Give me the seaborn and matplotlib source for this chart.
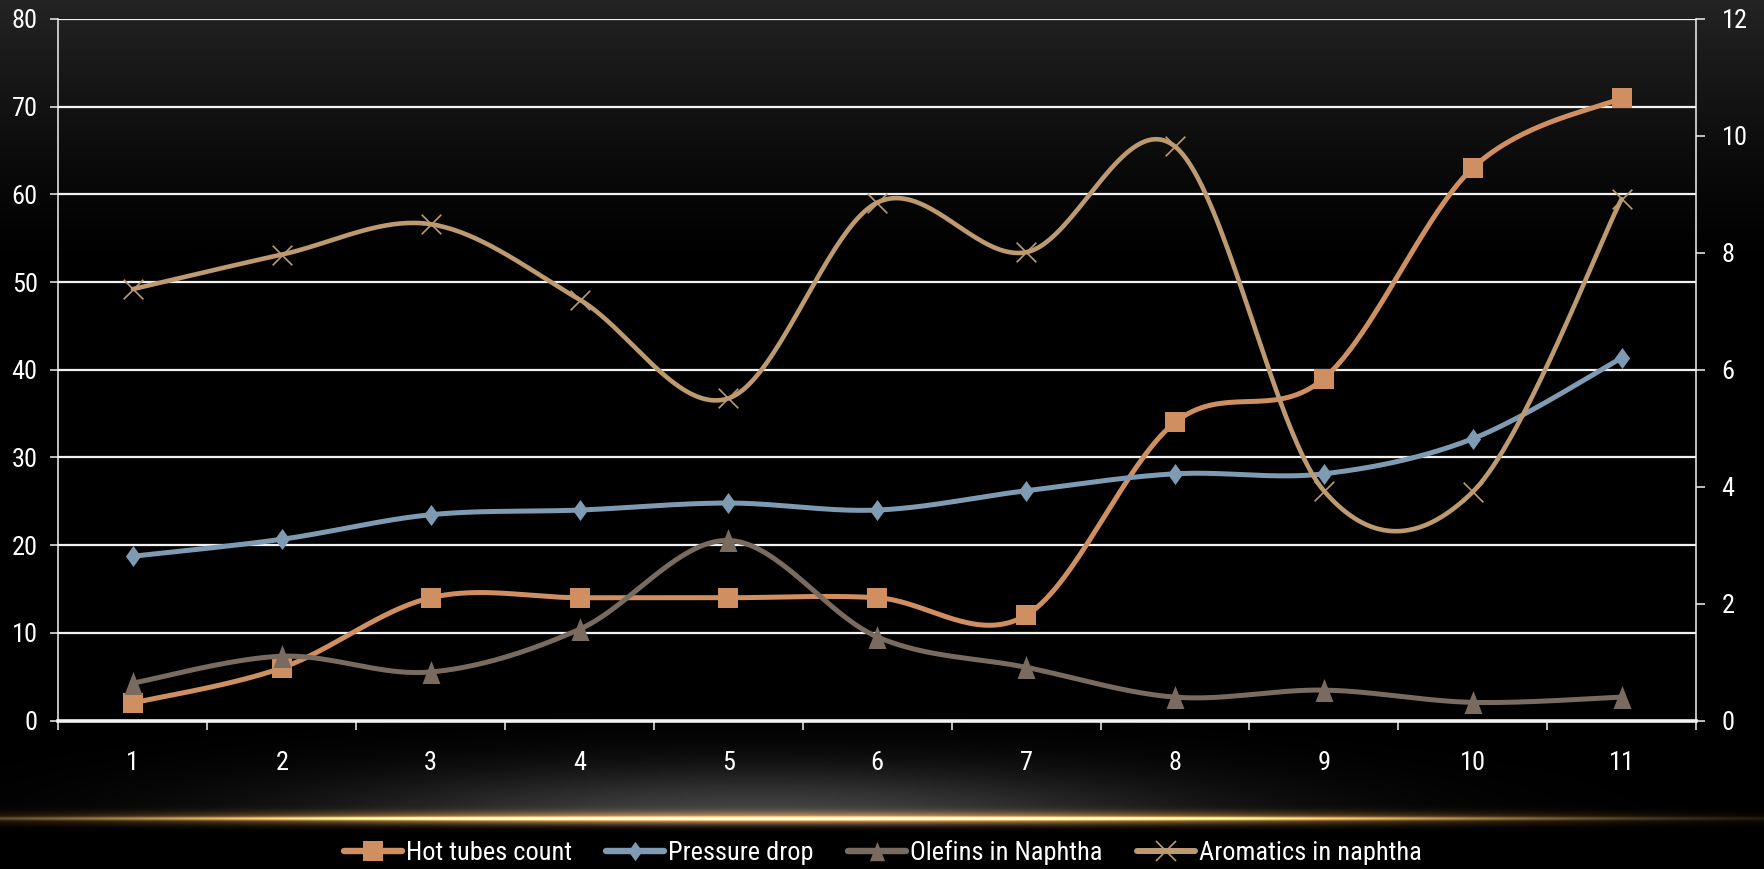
import numpy as np
import pandas as pd
import matplotlib
matplotlib.use('Agg')
import matplotlib.pyplot as plt
from matplotlib.lines import Line2D
import seaborn as sns

# values
samples = list(range(1, 12))
hot_tubes = [2, 6, 14, 14, 14, 14, 12, 34, 39, 63, 71]                      # left axis
pressure_drop = [2.81, 3.10, 3.52, 3.60, 3.72, 3.60, 3.93, 4.22, 4.22, 4.82, 6.20]  # right axis
olefins = [0.64, 1.10, 0.83, 1.56, 3.08, 1.43, 0.91, 0.40, 0.52, 0.31, 0.40]
aromatics = [7.38, 7.97, 8.49, 7.20, 5.51, 8.86, 8.01, 9.82, 3.93, 3.91, 8.92]

left_ticks = list(range(0, 81, 10))
right_ticks = list(range(0, 13, 2))

sns.set_theme(style='dark')
plt.rcParams['font.family'] = ['Roboto Condensed', 'DejaVu Sans']

W, H = 1765, 869
fig = plt.figure(figsize=(W / 100, H / 100), dpi=100)
fig.patch.set_facecolor('black')

# background: dark gradient on top, grey glow and golden streak at the bottom
yy, xx = np.mgrid[0:H, 0:W].astype(float)
img = np.zeros((H, W, 3))
top = 0.14 * np.clip(1 - yy / 270, 0, 1) ** 1.3
img += top[..., None]
line_y = 818
above = yy < line_y
glow = 0.27 * np.exp(-((xx - 760) / 430) ** 2) * np.where(
    above, np.exp(-((yy - line_y) / 50) ** 2), np.exp(-((yy - line_y) / 6) ** 2))
img += glow[..., None]
hx = np.exp(-np.abs((xx - 800) / 720) ** 3)
core = np.exp(-((yy - line_y) / 1.7) ** 2) * hx
halo = np.exp(-((yy - line_y) / 6.5) ** 2) * hx
img += core[..., None] * np.array([0.95, 0.82, 0.52])
img += 0.6 * halo[..., None] * np.array([0.85, 0.55, 0.18])
img = np.clip(img, 0, 1)
bg = fig.add_axes([0, 0, 1, 1], zorder=-10)
bg.imshow(img, aspect='auto', interpolation='bilinear')
bg.axis('off')

ax = fig.add_axes([58.5 / W, 1 - 720.5 / H, (1696 - 58.5) / W, (720.5 - 19) / H])
ax.patch.set_visible(False)
ax2 = ax.twinx()
ax2.patch.set_visible(False)


def smooth(xs, ys, n=40):
    # bezier curve through the points, like a spreadsheet "smoothed line"
    p = np.column_stack([xs, ys]).astype(float)
    pad = np.vstack([p[0], p, p[-1]])
    t = np.linspace(0, 1, n)[:, None]
    out = []
    for i in range(len(p) - 1):
        a, b = p[i], p[i + 1]
        c1 = a + (pad[i + 2] - pad[i]) / 6
        c2 = b - (pad[i + 3] - pad[i + 1]) / 6
        seg = (1 - t) ** 3 * a + 3 * (1 - t) ** 2 * t * c1 + 3 * (1 - t) * t ** 2 * c2 + t ** 3 * b
        out.append(seg if i == 0 else seg[1:])
    out = np.vstack(out)
    return pd.DataFrame({'x': out[:, 0], 'y': out[:, 1]})


square = 's'
diamond = [(0, 1), (0.72, 0), (0, -1), (-0.72, 0)]
triangle = [(0, 1), (0.78, -1), (-0.78, -1)]

series = [
    ('Hot tubes count', hot_tubes, ax, '#d08f60', square, 207, 3.6),
    ('Pressure drop', pressure_drop, ax2, '#7f9bb4', diamond, 230, 3.6),
    ('Olefins in Naphtha', olefins, ax2, '#7a6b60', triangle, 275, 3.6),
    ('Aromatics in naphtha', aromatics, ax2, '#bd9a70', 'x', 200, 3.3),
]

handles = []
for name, vals, axis, col, mk, size, lw in series:
    curve = smooth(samples, vals)
    sns.lineplot(data=curve, x='x', y='y', ax=axis, color=col, linewidth=lw,
                 sort=False, estimator=None, legend=False, zorder=3)
    pts = pd.DataFrame({'x': samples, 'y': vals})
    if mk == 'x':
        sns.scatterplot(data=pts, x='x', y='y', ax=axis, marker='x', s=size,
                        color=col, linewidth=1.2, legend=False, zorder=4)
    else:
        sns.scatterplot(data=pts, x='x', y='y', ax=axis, marker=mk, s=size,
                        color=col, linewidth=0, legend=False, zorder=4)
    handles.append(Line2D([], [], color=col, lw=lw + 1, marker=mk,
                          markersize=14 if mk != 'x' else 15,
                          markeredgewidth=0 if mk != 'x' else 1.2,
                          markeredgecolor=col, label=name))

grid_col = '#f2f2f2'
ax.set_xlim(0.5, 11.5)
ax.set_ylim(0, 80)
ax2.set_ylim(0, 12)
ax.set_yticks(left_ticks)
ax2.set_yticks(right_ticks)
ax.set_xticks(samples)
ax.set_xticklabels([str(s) for s in samples])
ax.set_xticks(np.arange(0.5, 12, 1), minor=True)
ax.set_xlabel('')
ax.set_ylabel('')
ax2.set_ylabel('')

ax.yaxis.grid(True, color=grid_col, linewidth=1.6)
ax.xaxis.grid(False)
ax2.grid(False)
ax.set_axisbelow(True)

ax.tick_params(axis='x', which='major', length=0, pad=22, labelsize=19, colors='white')
ax.tick_params(axis='x', which='minor', length=6.5, width=1.1, color=grid_col, direction='out', bottom=True)
ax.tick_params(axis='y', length=6, width=1.1, color=grid_col, direction='out', pad=9,
               labelsize=19, labelcolor='white', left=True)
ax2.tick_params(axis='y', length=6.5, width=1.1, color=grid_col, direction='out', pad=12,
                labelsize=19, labelcolor='white', right=True)

for s in ['top', 'right']:
    ax.spines[s].set_visible(False)
ax.spines['left'].set_color(grid_col)
ax.spines['left'].set_linewidth(1.1)
ax.spines['bottom'].set_color(grid_col)
ax.spines['bottom'].set_linewidth(2.6)
for s in ['top', 'left', 'bottom']:
    ax2.spines[s].set_visible(False)
ax2.spines['right'].set_visible(True)
ax2.spines['right'].set_color(grid_col)
ax2.spines['right'].set_linewidth(1.1)

leg = fig.legend(handles=handles, loc='center', bbox_to_anchor=(0.5, 1 - 853 / H), ncol=4,
                 frameon=False, fontsize=19, handlelength=2.2, handletextpad=0.15,
                 columnspacing=1.3, labelcolor='white')

fig.savefig('out.png', dpi=100, facecolor='black')
